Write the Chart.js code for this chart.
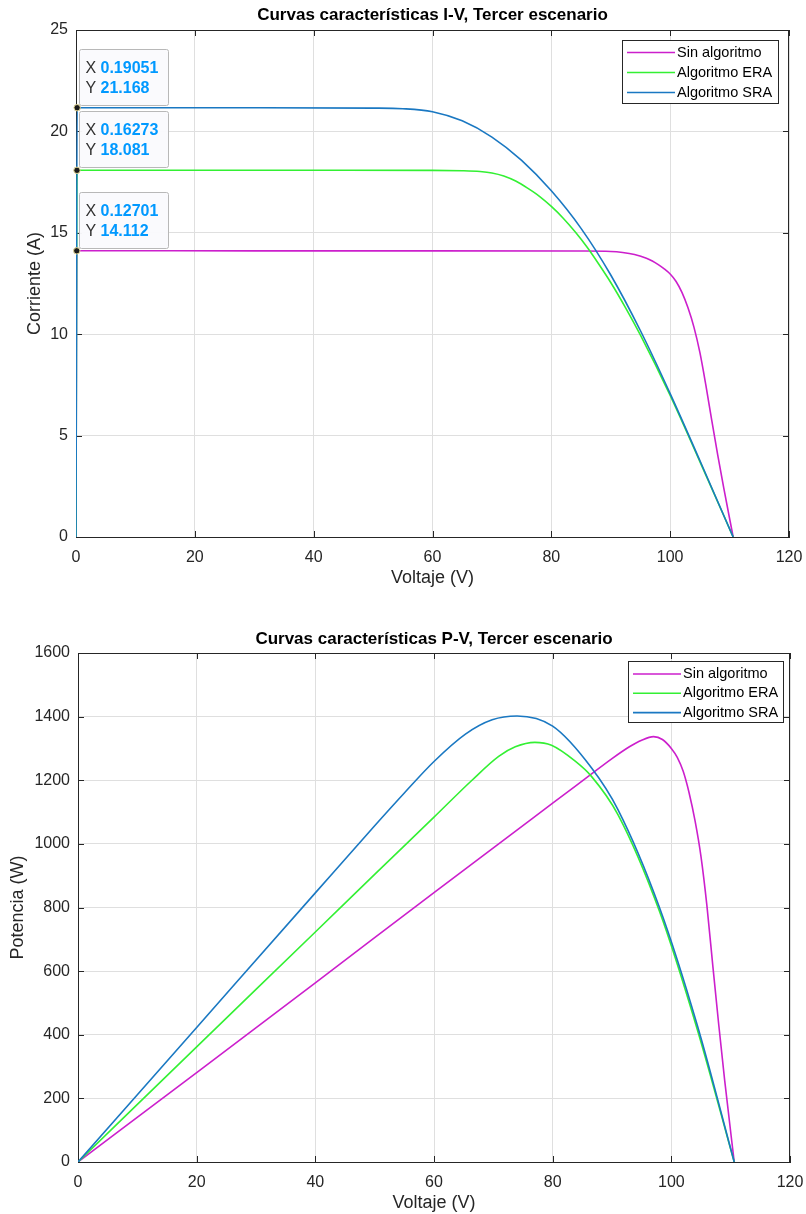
<!DOCTYPE html>
<html lang="es">
<head>
<meta charset="UTF-8">
<title>Curvas características, Tercer escenario</title>
<script src="https://cdn.jsdelivr.net/npm/chart.js"></script>
<style>
  html, body { margin: 0; padding: 0; background: #fff; overflow: hidden; }
  .panel { position: absolute; left: 0; width: 806px; }
</style>
</head>
<body>
<div class="panel" style="top:0;height:600px"><canvas id="graficoIV"></canvas></div>
<div class="panel" style="top:600px;height:614px"><canvas id="graficoPV"></canvas></div>

<script>
// Curva I-V (voltaje en V, corriente en A)
const ivSinV = [0, 0.12701, 30, 60, 85, 90, 92, 94, 96, 97, 98, 99, 100, 101, 102, 103, 104, 105, 106, 107, 108, 109, 110.6];
const ivSinI = [0, 14.112, 14.111, 14.11, 14.1, 14.08, 14.03, 13.93, 13.75, 13.61, 13.43, 13.22, 12.97, 12.6, 12.05, 11.3, 10.35, 9.1, 7.5, 5.75, 4.05, 2.45, 0];

const ivEraV = [0, 0.16273, 30, 60, 65, 68, 70, 72, 74, 76, 78, 80, 82, 84, 86, 88, 90, 92.5, 95, 100, 105, 110.6];
const ivEraI = [0, 18.081, 18.081, 18.08, 18.06, 18.02, 17.95, 17.8, 17.55, 17.2, 16.8, 16.3, 15.72, 15.05, 14.3, 13.45, 12.55, 11.3, 9.95, 6.98, 3.72, 0];

const ivSraV = [0, 0.19051, 30, 50, 55, 60, 65, 70, 75, 80, 85, 90, 95, 100, 105, 110.6];
const ivSraI = [0, 21.168, 21.167, 21.15, 21.12, 20.97, 20.52, 19.72, 18.57, 17.07, 15.22, 12.92, 10.17, 7.07, 3.77, 0];

// Curva P-V (voltaje en V, potencia en W)
const pvSinV = [0, 20, 40, 60, 80, 86, 90, 93, 95, 97, 98.5, 100, 101, 102, 103, 104, 105, 106, 107, 108, 109, 110.6];
const pvSinP = [0, 281, 563, 847, 1128, 1212, 1268, 1306, 1326, 1337, 1328, 1300, 1272, 1228, 1160, 1072, 960, 805, 615, 430, 255, 0];

const pvEraV = [0, 20, 40, 50, 60, 66.4, 70.9, 73.7, 77, 79.8, 83.8, 86.5, 91, 98, 104.4, 110.6];
const pvEraP = [0, 362, 723, 904, 1084, 1200, 1275, 1305, 1319, 1310, 1260, 1213, 1092, 788, 415, 0];

const pvSraV = [0, 20, 40, 50, 55, 60, 65.3, 69.8, 74, 80, 86.5, 91, 98, 104.4, 110.6];
const pvSraP = [0, 423, 846, 1057, 1160, 1259, 1345, 1390, 1402, 1370, 1240, 1108, 800, 428, 0];

const nombres = ['Sin algoritmo', 'Algoritmo ERA', 'Algoritmo SRA'];
const colores = ['#CC1FCC', '#33F033', '#1A78C2'];

const ticksVoltaje = [0, 20, 40, 60, 80, 100, 120];
const ticksCorriente = [0, 5, 10, 15, 20, 25];
const ticksPotencia = [0, 200, 400, 600, 800, 1000, 1200, 1400, 1600];

const fuente = "'Liberation Sans', Arial, Helvetica, sans-serif";
Chart.defaults.font.family = fuente;
Chart.defaults.color = '#262626';

function puntos(xs, ys) {
    return xs.map((v, i) => ({ x: v, y: ys[i] }));
}

// marco, ticks interiores, titulo, leyenda y datatips estilo MATLAB
const marco = {
    id: 'marco',
    beforeDatasetsDraw(chart, args, opts) {
        const { ctx, chartArea: a, scales: { x, y } } = chart;
        ctx.save();
        ctx.strokeStyle = '#262626';
        ctx.lineWidth = 1;
        ctx.beginPath();
        ctx.moveTo(a.left, a.top + 0.5); ctx.lineTo(a.right, a.top + 0.5);
        ctx.moveTo(a.right - 0.5, a.top); ctx.lineTo(a.right - 0.5, a.bottom);
        x.ticks.forEach(t => {
            const px = Math.round(x.getPixelForValue(t.value)) + 0.5;
            ctx.moveTo(px, a.bottom); ctx.lineTo(px, a.bottom - 6);
            ctx.moveTo(px, a.top); ctx.lineTo(px, a.top + 6);
        });
        y.ticks.forEach(t => {
            const py = Math.round(y.getPixelForValue(t.value)) + 0.5;
            ctx.moveTo(a.left, py); ctx.lineTo(a.left + 6, py);
            ctx.moveTo(a.right, py); ctx.lineTo(a.right - 6, py);
        });
        ctx.stroke();
        ctx.restore();
    },
    afterDraw(chart, args, opts) {
        const { ctx, chartArea: a } = chart;
        ctx.save();
        // titulo
        ctx.fillStyle = '#000';
        ctx.font = 'bold 17px ' + fuente;
        ctx.textAlign = 'center';
        ctx.textBaseline = 'middle';
        ctx.fillText(opts.titulo, (a.left + a.right) / 2, a.top - opts.tituloDy);

        // leyenda
        const L = opts.leyenda;
        ctx.fillStyle = '#fff';
        ctx.fillRect(L.x, L.y, L.w, L.h);
        ctx.strokeStyle = '#262626';
        ctx.lineWidth = 1;
        ctx.strokeRect(L.x + 0.5, L.y + 0.5, L.w, L.h);
        ctx.font = '14.5px ' + fuente;
        ctx.textAlign = 'left';
        chart.data.datasets.forEach((ds, i) => {
            const yy = L.y + L.fila0 + i * L.paso;
            ctx.strokeStyle = ds.borderColor;
            ctx.lineWidth = 1.6;
            ctx.beginPath();
            ctx.moveTo(L.x + 5, yy); ctx.lineTo(L.x + 53, yy);
            ctx.stroke();
            ctx.fillStyle = '#000';
            ctx.fillText(ds.label, L.x + 55, yy);
        });

        // datatips
        if (opts.tips) {
            const { x, y } = chart.scales;
            chart.data.datasets.forEach(ds => {
                const p = ds.data[1];
                const px = x.getPixelForValue(p.x);
                const py = y.getPixelForValue(p.y);
                const bx = Math.round(px) + 2.5, by = Math.round(py) - 58.5;
                ctx.fillStyle = 'rgba(250,250,253,0.97)';
                ctx.strokeStyle = '#b8b8b8';
                ctx.lineWidth = 1;
                ctx.beginPath();
                ctx.roundRect(bx, by, 89, 56, 2);
                ctx.fill();
                ctx.stroke();
                ctx.textBaseline = 'middle';
                ctx.font = '16px ' + fuente;
                ctx.fillStyle = '#333';
                ctx.fillText('X', bx + 6, by + 19);
                ctx.fillText('Y', bx + 6, by + 39);
                ctx.font = 'bold 16px ' + fuente;
                ctx.fillStyle = '#0099FF';
                ctx.fillText(p.x.toPrecision(5), bx + 21, by + 19);
                ctx.fillText(p.y.toPrecision(5), bx + 21, by + 39);
                ctx.beginPath();
                ctx.arc(px, py, 3.2, 0, Math.PI * 2);
                ctx.fillStyle = '#1a1a1a';
                ctx.fill();
                ctx.strokeStyle = '#e8dc9a';
                ctx.lineWidth = 1;
                ctx.stroke();
            });
        }
        ctx.restore();
    }
};

function serie(i, xs, ys) {
    return {
        label: nombres[i],
        data: puntos(xs, ys),
        borderColor: colores[i],
        backgroundColor: colores[i],
        borderWidth: 1.6,
        pointRadius: 0,
        fill: false,
        cubicInterpolationMode: 'monotone',
        order: 2 - i
    };
}

function ejes(cfg) {
    return {
        x: {
            type: 'linear',
            min: 0, max: 120,
            afterBuildTicks: s => { s.ticks = ticksVoltaje.map(v => ({ value: v })); },
            afterFit: s => { s.height = cfg.altoX; s.paddingLeft = 0; s.paddingRight = 0; },
            ticks: { padding: 11, font: { size: 16 }, color: '#262626', callback: v => String(v) },
            grid: { color: '#dfdfdf', drawTicks: false },
            border: { color: '#262626', width: 1 },
            title: { display: true, text: 'Voltaje (V)', font: { size: 18 }, color: '#262626', padding: { top: 0, bottom: cfg.padTituloX } }
        },
        y: {
            type: 'linear',
            min: 0, max: cfg.maxY,
            afterBuildTicks: s => { s.ticks = cfg.ticksY.map(v => ({ value: v })); },
            afterFit: s => { s.width = cfg.anchoY; s.paddingTop = 0; s.paddingBottom = 0; },
            ticks: { padding: 8, font: { size: 16 }, color: '#262626', callback: v => String(v) },
            grid: { color: '#dfdfdf', drawTicks: false },
            border: { color: '#262626', width: 1 },
            title: { display: true, text: cfg.tituloY, font: { size: 18 }, color: '#262626', padding: { top: cfg.padTituloY, bottom: 0 } }
        }
    };
}

new Chart(document.getElementById('graficoIV'), {
    type: 'line',
    data: {
        datasets: [
            serie(0, ivSinV, ivSinI),
            serie(1, ivEraV, ivEraI),
            serie(2, ivSraV, ivSraI)
        ]
    },
    options: {
        responsive: true,
        maintainAspectRatio: false,
        animation: false,
        devicePixelRatio: 1,
        events: [],
        layout: { padding: { top: 30, right: 17, left: 0, bottom: 0 } },
        scales: ejes({ altoX: 63, padTituloX: 11, maxY: 25, ticksY: ticksCorriente, anchoY: 76, tituloY: 'Corriente (A)', padTituloY: 24 }),
        plugins: {
            legend: { display: false },
            tooltip: { enabled: false },
            marco: {
                titulo: 'Curvas características I-V, Tercer escenario',
                tituloDy: 15,
                leyenda: { x: 622, y: 40, w: 156, h: 63, fila0: 12.5, paso: 20 },
                tips: true
            }
        }
    },
    plugins: [marco]
});

new Chart(document.getElementById('graficoPV'), {
    type: 'line',
    data: {
        datasets: [
            serie(0, pvSinV, pvSinP),
            serie(1, pvEraV, pvEraP),
            serie(2, pvSraV, pvSraP)
        ]
    },
    options: {
        responsive: true,
        maintainAspectRatio: false,
        animation: false,
        devicePixelRatio: 1,
        events: [],
        layout: { padding: { top: 53, right: 16, left: 0, bottom: 0 } },
        scales: ejes({ altoX: 52, padTituloX: 0, maxY: 1600, ticksY: ticksPotencia, anchoY: 78, tituloY: 'Potencia (W)', padTituloY: 7 }),
        plugins: {
            legend: { display: false },
            tooltip: { enabled: false },
            marco: {
                titulo: 'Curvas características P-V, Tercer escenario',
                tituloDy: 14,
                leyenda: { x: 628, y: 61, w: 155, h: 61, fila0: 13, paso: 19.3 },
                tips: false
            }
        }
    },
    plugins: [marco]
});
</script>
</body>
</html>
